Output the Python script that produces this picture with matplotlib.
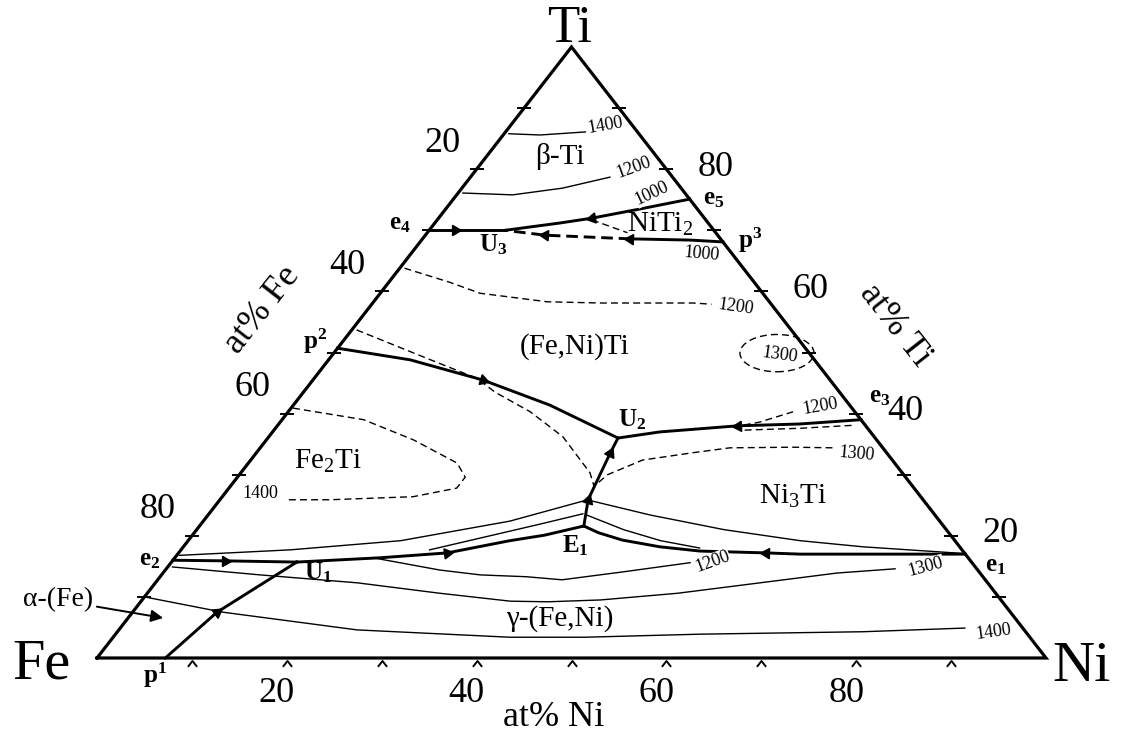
import numpy as np
import matplotlib.pyplot as plt
from matplotlib.patches import Ellipse

plt.rcParams['font.family'] = ['Liberation Serif', 'DejaVu Serif']
plt.rcParams['mathtext.fontset'] = 'custom'
plt.rcParams['mathtext.rm'] = 'Liberation Serif'
plt.rcParams['mathtext.it'] = 'Liberation Serif:italic'
plt.rcParams['mathtext.bf'] = 'Liberation Serif:bold'

# every composition is (at% Ni, at% Ti), Fe is the balance

# monovariant lines (thick)
e4_U3_ni = [0.0, 2.7, 8.0]
e4_U3_ti = [70.0, 70.0, 70.0]
U3_e5_ni = [8.0, 13.2, 16.2, 20.5, 24.9]
U3_e5_ti = [70.0, 71.2, 72.0, 73.5, 75.1]
p3_U3_ni = [31.9, 28.3, 21.9]
p3_U3_ti = [68.1, 68.4, 68.6]
p3_U3b_ni = [21.9, 12.6, 8.0]
p3_U3b_ti = [68.6, 69.2, 70.0]
p2_U2_ni = [0.0, 8.6, 17.9, 27.0, 36.9]
p2_U2_ti = [50.7, 48.8, 45.5, 41.4, 36.0]
e3_U2_ni = [61.0, 54.9, 48.5, 40.8, 36.9]
e3_U2_ti = [39.0, 38.3, 38.0, 37.0, 36.0]
U2_E1_ni = [36.9, 37.3, 38.0, 38.8, 40.5]
U2_E1_ti = [36.0, 33.6, 30.0, 25.9, 21.6]
e2_U1_ni = [0.0, 5.5, 13.2]
e2_U1_ti = [16.0, 15.9, 15.7]
p1_U1_ni = [7.2, 8.9, 13.2]
p1_U1_ti = [0.0, 7.5, 15.7]
U1_E1_ni = [13.2, 21.6, 28.3, 33.9, 37.1, 40.5]
U1_E1_ti = [15.7, 16.4, 17.2, 19.2, 20.1, 21.6]
e1_E1_ni = [83.0, 65.6, 61.9, 54.8, 50.2, 45.7, 42.6, 40.5]
e1_E1_ti = [17.0, 17.0, 17.2, 17.5, 18.2, 19.3, 20.5, 21.6]

# isotherms (thin solid)
iso_a_ni = [0.3, 11.5, 22.4, 32.3, 38.4]
iso_a_ti = [16.8, 17.7, 19.2, 22.4, 25.7]
iso_b_ni = [26.2, 30.5, 35.7, 39.4]
iso_b_ti = [17.7, 19.6, 21.9, 23.6]
iso_c_ni = [39.3, 46.6, 55.6, 64.5, 71.6, 82.8]
iso_c_ti = [25.7, 23.4, 21.0, 19.2, 18.2, 17.1]
iso_d_ni = [39.9, 45.0, 49.8, 54.5]
iso_d_ti = [23.4, 21.0, 19.2, 18.0]
iso1200_lo_ni = [20.9, 28.9, 33.6, 38.6, 42.6, 48.4, 54.7]
iso1200_lo_ti = [16.4, 14.4, 13.6, 13.3, 12.8, 14.1, 15.6]
iso1300_lo_ni = [0.5, 10.4, 21.3, 30.8, 38.9, 42.9, 48.3, 55.9, 63.7, 71.0, 76.8]
iso1300_lo_ti = [14.9, 13.6, 12.3, 10.6, 9.3, 9.2, 9.5, 10.6, 12.3, 13.9, 14.6]
iso1400_lo_ni = [0.0, 9.5, 25.1, 41.8, 49.7, 61.6, 78.6, 89.0]
iso1400_lo_ti = [10.0, 7.5, 4.6, 3.4, 3.4, 3.9, 4.3, 4.9]
iso1400_hi_ni = [0.5, 3.9, 8.4]
iso1400_hi_ti = [85.8, 85.6, 86.1]
iso1200_hi_ni = [0.5, 5.9, 10.6, 14.7]
iso1200_hi_ti = [76.1, 75.8, 76.9, 78.7]

# isotherms (dashed)
d1200_mid_ni = [0.5, 6.4, 10.5, 18.3, 24.0, 33.8, 35.8]
d1200_mid_ti = [63.8, 61.5, 59.7, 58.3, 58.1, 58.1, 57.9]
d1200_e3_ni = [48.1, 50.5, 53.2]
d1200_e3_ti = [37.8, 38.6, 40.3]
d_e3_ni = [49.6, 55.3, 60.8]
d_e3_ti = [37.3, 37.6, 38.1]
d1300_ni = [60.3, 56.1, 49.5, 46.0, 41.3, 38.8, 38.3]
d1300_ti = [34.4, 34.5, 34.4, 33.6, 32.4, 30.0, 28.0]
d_p2_ni = [0.5, 9.7, 17.1, 20.2, 25.5, 31.0, 36.8, 38.4]
d_p2_ti = [53.7, 49.3, 45.8, 43.5, 40.3, 36.2, 30.3, 28.0]
d1400_ni = [0.2, 8.6, 15.5, 22.0, 24.0, 24.0, 20.1, 11.6, 6.9]
d1400_ti = [40.9, 39.0, 35.7, 31.9, 29.6, 27.8, 26.4, 25.9, 25.9]
d_niti2_ni = [16.3, 21.1]
d_niti2_ti = [71.7, 69.6]
loop1300_ni, loop1300_ti = 46.7, 49.9

iso_labels = ['1400', '1200', '1000', '1000', '1200', '1300',
              '1200', '1300', '1400', '1200', '1300', '1400']
iso_lab_ni = [10.0, 16.5, 20.4, 30.7, 38.6, 47.2, 55.6, 63.4, 3.7, 57.0, 79.9, 92.3]
iso_lab_ti = [87.1, 80.2, 76.1, 66.1, 57.5, 49.6, 41.2, 33.4, 27.0, 15.7, 14.9, 4.3]
iso_lab_rot = [10, 20, 25, -5, -8, -8, 10, -5, 0, 20, 15, 8]

phase_labels = ['β-Ti', 'NiTi$_2$', '(Fe,Ni)Ti', 'Fe$_2$Ti', 'Ni$_3$Ti', 'γ-(Fe,Ni)']
phase_ni = [7.8, 23.9, 24.9, 8.3, 60.1, 45.6]
phase_ti = [82.0, 70.9, 50.9, 32.1, 26.4, 6.4]

point_labels = [r'$\mathbf{e_1}$', r'$\mathbf{e_2}$', r'$\mathbf{e_3}$', r'$\mathbf{e_4}$',
                r'$\mathbf{e_5}$', r'$\mathbf{p^1}$', r'$\mathbf{p^2}$', r'$\mathbf{p^3}$',
                r'$\mathbf{U_1}$', r'$\mathbf{U_2}$', r'$\mathbf{U_3}$', r'$\mathbf{E_1}$']
point_ni = [87.2, -2.4, 61.1, -3.6, 27.4, 7.5, -3.0, 34.7, 16.3, 36.9, 7.9, 41.3]
point_ti = [15.0, 16.0, 42.7, 71.0, 75.1, -2.8, 51.9, 68.3, 13.9, 39.0, 67.6, 18.3]

tick_vals = [10, 20, 30, 40, 50, 60, 70, 80, 90]
tick_labels = [20, 40, 60, 80]


def tern(ni, ti):
    ni = np.asarray(ni, dtype=float)
    ti = np.asarray(ti, dtype=float)
    return ni + ti / 2.0, ti


fig = plt.figure(figsize=(11.22, 7.37), dpi=100)
ax = fig.add_axes([97 / 1122, 79 / 737, 949 / 1122, 611 / 737])
ax.set_xlim(0, 100)
ax.set_ylim(0, 100)
ax.axis('off')


def line(ni, ti, **kw):
    x, y = tern(ni, ti)
    ax.plot(x, y, color='k', clip_on=False, **kw)


def arrow(ni, ti, i, back=False):
    x, y = tern(ni, ti)
    pts = ax.transData.transform(np.column_stack([x, y]))
    d = pts[min(i + 1, len(x) - 1)] - pts[max(i - 1, 0)]
    if back:
        d = -d
    ang = np.degrees(np.arctan2(d[1], d[0]))
    ax.plot(x[i], y[i], marker=(3, 0, ang - 90), ms=8.5, color='k',
            clip_on=False, zorder=5)


# triangle
line([0, 100, 0, 0], [0, 0, 100, 0], lw=2.3, solid_joinstyle='miter')

# ticks
caret = [(-0.55, -1.0), (0.0, -0.3), (0.55, -1.0)]
bx, by = tern(tick_vals, [0] * 9)
ax.plot(bx, by, ls='none', marker=caret, ms=12, mfc='none', mec='k', mew=1.4, clip_on=False)
lx, ly = tern([0] * 9, [100 - v for v in tick_vals])
ax.plot(lx, ly, ls='none', marker='_', ms=10, mec='k', mew=1.4, clip_on=False)
rx, ry = tern([100 - v for v in tick_vals], tick_vals)
ax.plot(rx, ry, ls='none', marker='_', ms=10, mec='k', mew=1.4, clip_on=False)

for v in tick_labels:
    x, y = tern(0, 100 - v)
    ax.annotate(str(v), (x, y), xytext=(-34, 26), textcoords='offset pixels',
                ha='center', va='center', fontsize=26, annotation_clip=False)
    x, y = tern(100 - v, v)
    ax.annotate(str(v), (x, y), xytext=(49, 2), textcoords='offset pixels',
                ha='center', va='center', fontsize=26, annotation_clip=False)
    x, y = tern(v, 0)
    ax.annotate(str(v), (x, y), xytext=(-10, -36), textcoords='offset pixels',
                ha='center', va='center', fontsize=26, annotation_clip=False)

# thin solid isotherms
for ni, ti in [(iso_a_ni, iso_a_ti), (iso_b_ni, iso_b_ti), (iso_c_ni, iso_c_ti),
               (iso_d_ni, iso_d_ti), (iso1200_lo_ni, iso1200_lo_ti),
               (iso1300_lo_ni, iso1300_lo_ti), (iso1400_lo_ni, iso1400_lo_ti),
               (iso1400_hi_ni, iso1400_hi_ti), (iso1200_hi_ni, iso1200_hi_ti)]:
    line(ni, ti, lw=1.0)

# dashed isotherms
for ni, ti in [(d1200_mid_ni, d1200_mid_ti), (d1200_e3_ni, d1200_e3_ti),
               (d_e3_ni, d_e3_ti), (d1300_ni, d1300_ti), (d_p2_ni, d_p2_ti),
               (d1400_ni, d1400_ti), (d_niti2_ni, d_niti2_ti)]:
    line(ni, ti, lw=1.0, ls=(0, (5, 3)))
cx, cy = tern(loop1300_ni, loop1300_ti)
ax.add_patch(Ellipse((cx, cy), 7.8, 6.1, fill=False, ec='k', lw=1.0, ls=(0, (5, 3))))

# thick lines
for ni, ti in [(e4_U3_ni, e4_U3_ti), (U3_e5_ni, U3_e5_ti), (p3_U3_ni, p3_U3_ti),
               (p2_U2_ni, p2_U2_ti), (e3_U2_ni, e3_U2_ti), (U2_E1_ni, U2_E1_ti),
               (e2_U1_ni, e2_U1_ti), (p1_U1_ni, p1_U1_ti), (U1_E1_ni, U1_E1_ti),
               (e1_E1_ni, e1_E1_ti)]:
    line(ni, ti, lw=2.1)
line(p3_U3b_ni, p3_U3b_ti, lw=2.1, ls=(0, (4, 2)))

arrow(e4_U3_ni, e4_U3_ti, 1)
arrow(U3_e5_ni, U3_e5_ti, 2, back=True)
arrow(p3_U3b_ni, p3_U3b_ti, 0)
arrow(p3_U3b_ni, p3_U3b_ti, 1)
arrow(p2_U2_ni, p2_U2_ti, 2)
arrow(e3_U2_ni, e3_U2_ti, 2)
arrow(U2_E1_ni, U2_E1_ti, 1, back=True)
arrow(U2_E1_ni, U2_E1_ti, 3, back=True)
arrow(e2_U1_ni, e2_U1_ti, 1)
arrow(p1_U1_ni, p1_U1_ti, 1)
arrow(U1_E1_ni, U1_E1_ti, 2)
arrow(e1_E1_ni, e1_E1_ti, 2)

# labels
for s, ni, ti, r in zip(iso_labels, iso_lab_ni, iso_lab_ti, iso_lab_rot):
    x, y = tern(ni, ti)
    ax.text(x, y, s, fontsize=13, rotation=r, ha='center', va='center',
            bbox=dict(fc='white', ec='none', pad=0.2))
for s, ni, ti in zip(phase_labels, phase_ni, phase_ti):
    x, y = tern(ni, ti)
    ax.text(x, y, s, fontsize=21, ha='center', va='center')
for s, ni, ti in zip(point_labels, point_ni, point_ti):
    x, y = tern(ni, ti)
    ax.text(x, y, s, fontsize=18, ha='center', va='center')

x, y = tern(-1.7, 102.9)
ax.text(x, y, 'Ti', fontsize=38, ha='center', va='center')
x, y = tern(-5.25, -1.1)
ax.text(x, y, 'Fe', fontsize=42, ha='center', va='center')
x, y = tern(104.55, -1.5)
ax.text(x, y, 'Ni', fontsize=42, ha='center', va='center')

x, y = tern(-11.1, 57.0)
ax.text(x, y, 'at% Fe', fontsize=26, rotation=52, ha='center', va='center')
x, y = tern(56.85, 54.5)
ax.text(x, y, 'at% Ti', fontsize=26, rotation=-52, ha='center', va='center')
x, y = tern(53.0, -9.66)
ax.text(x, y, 'at% Ni', fontsize=26, ha='center', va='center')

# alpha-(Fe) pointer
tx, ty = tern(-8.9, 9.5)
hx, hy = tern(3.7, 6.55)
ax.annotate('α-(Fe)', xy=(hx, hy), xytext=(tx, ty), fontsize=20, ha='center', va='center',
            annotation_clip=False,
            arrowprops=dict(arrowstyle='-|>', color='k', lw=1.4, mutation_scale=18,
                            shrinkA=1, shrinkB=0))

fig.savefig('out.png', dpi=100)
